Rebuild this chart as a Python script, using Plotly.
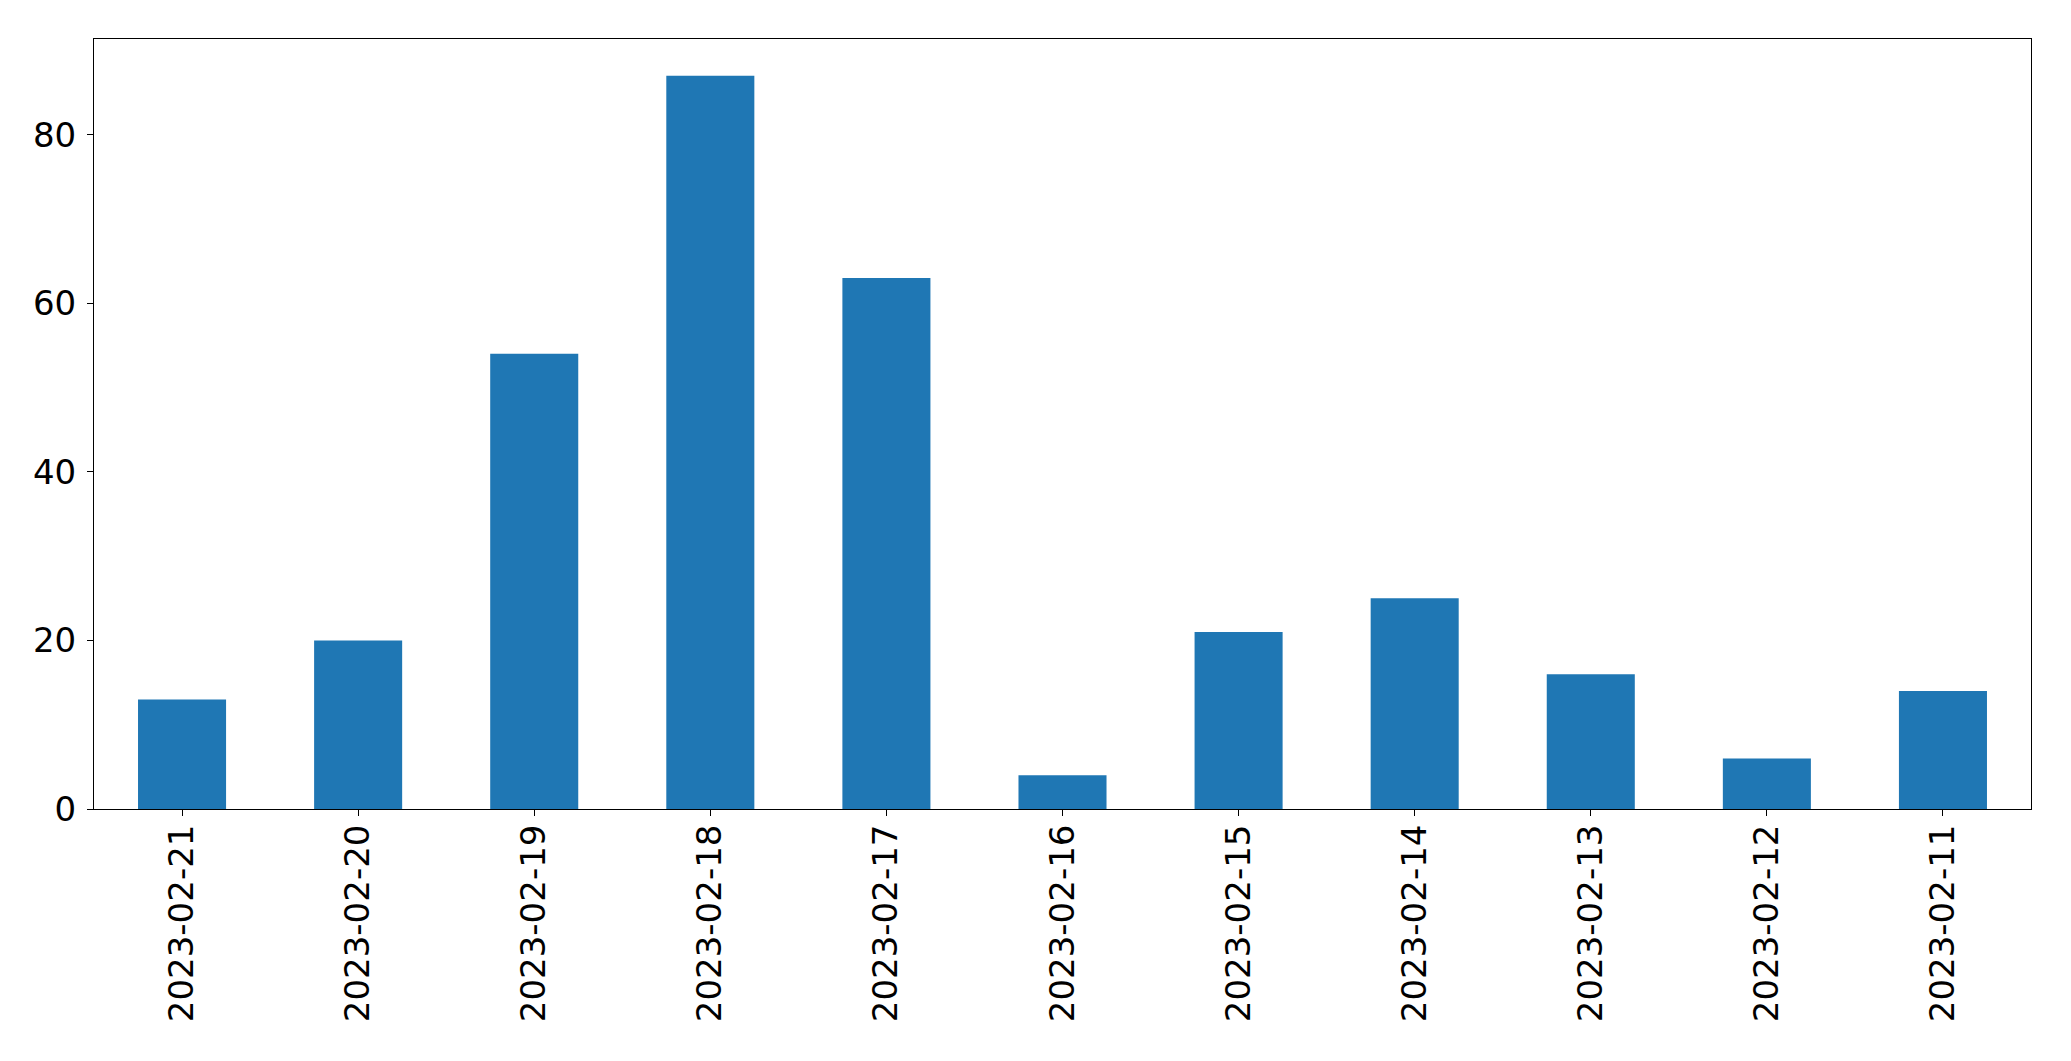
import plotly.graph_objects as go

dates = ["2023-02-21", "2023-02-20", "2023-02-19", "2023-02-18", "2023-02-17",
         "2023-02-16", "2023-02-15", "2023-02-14", "2023-02-13", "2023-02-12", "2023-02-11"]
counts = [13, 20, 54, 87, 63, 4, 21, 25, 16, 6, 14]
y_ticks = [0, 20, 40, 60, 80]

fig = go.Figure(go.Bar(x=dates, y=counts, width=0.5, marker=dict(color="#1f77b4", line=dict(width=0))))

fig.update_layout(
    width=2071, height=1061,
    margin=dict(l=94, r=40, t=39, b=252, autoexpand=False),
    plot_bgcolor="white", paper_bgcolor="white",
    font=dict(family="DejaVu Sans", size=34, color="black"),
    showlegend=False,
)
fig.update_xaxes(
    type="category", range=[-0.5, len(dates) - 0.5],
    tickangle=-90, ticks="outside", ticklen=6, tickcolor="black",
    showline=True, linecolor="black", linewidth=1, mirror=True,
    showgrid=False, ticklabelstandoff=-5, automargin=False,
)
fig.update_yaxes(
    range=[0, max(counts) * 1.05], tickvals=y_ticks,
    ticks="outside", ticklen=6, tickcolor="black",
    showline=True, linecolor="black", linewidth=1, mirror=True,
    showgrid=False, zeroline=False, ticklabelstandoff=4, automargin=False,
)
fig.write_html("out.html", config={"displayModeBar": False},
               post_script="document.body.style.margin='0';")
